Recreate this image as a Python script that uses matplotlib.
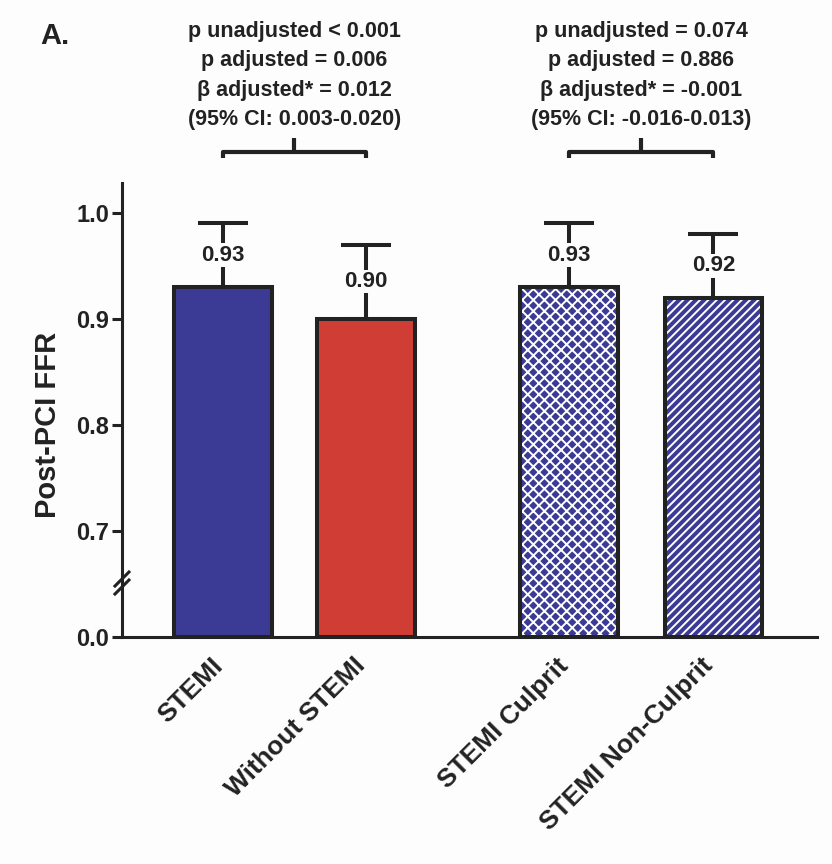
import numpy as np
import matplotlib.pyplot as plt
from matplotlib.transforms import offset_copy

groups = ['STEMI', 'Without STEMI', 'STEMI Culprit', 'STEMI Non-Culprit']
means = [0.93, 0.90, 0.93, 0.92]
errs = [0.06, 0.07, 0.06, 0.06]
value_labels = ['0.93', '0.90', '0.93', '0.92']
stats_left = ['p unadjusted < 0.001', 'p adjusted = 0.006',
              'β adjusted* = 0.012', '(95% CI: 0.003-0.020)']
stats_right = ['p unadjusted = 0.074', 'p adjusted = 0.886',
               'β adjusted* = -0.001', '(95% CI: -0.016-0.013)']

xpos = [0, 1, 2.42, 3.43]
blue = '#3b3b95'
red = '#cf3d35'
dark = '#222222'
bg = '#fdfdfd'

plt.rcParams['font.family'] = ['Liberation Sans', 'DejaVu Sans']
plt.rcParams['font.weight'] = 'bold'
plt.rcParams['hatch.linewidth'] = 1.4


# broken axis: 0..0.7 squeezed into one tick step
def fwd(v):
    v = np.asarray(v, dtype=float)
    return np.where(v < 0.7, 0.6 + v / 7.0, v)


def inv(t):
    t = np.asarray(t, dtype=float)
    return np.where(t < 0.7, (t - 0.6) * 7.0, t)


fig = plt.figure(figsize=(8.32, 8.64), dpi=100, facecolor=bg)
ax = fig.add_axes([0.1466, 0.2627, 0.8353, 0.5255])
ax.set_facecolor(bg)
ax.set_yscale('function', functions=(fwd, inv))
ax.set_ylim(0, 1.028)
ax.set_xlim(-0.706, 4.154)

faces = [blue, red, blue, blue]
hatches = [None, None, 'xxx', '////']
w = 0.68
for x, m, fc, h in zip(xpos, means, faces, hatches):
    if h:
        ax.bar(x, m, w, color=fc, edgecolor='white', hatch=h, linewidth=0, zorder=2)
        ax.bar(x, m, w, fill=False, edgecolor=dark, linewidth=2.9, zorder=3)
    else:
        ax.bar(x, m, w, color=fc, edgecolor=dark, linewidth=2.9, zorder=3)

ax.errorbar(xpos, means, yerr=[[0] * 4, errs], fmt='none', ecolor=dark,
            elinewidth=2.9, capsize=18, capthick=2.9, zorder=1)

for x, m, e, lab in zip(xpos, means, errs, value_labels):
    ax.text(x, m + e / 2, lab, ha='center', va='center', fontsize=16,
            fontweight='bold', color=dark, zorder=4,
            bbox=dict(facecolor=bg, edgecolor='none', pad=1.0))

ax.set_yticks([0.0, 0.7, 0.8, 0.9, 1.0])
ax.set_yticklabels(['0.0', '0.7', '0.8', '0.9', '1.0'])
ax.set_xticks(xpos)
ax.set_xticklabels([''] * len(groups))
ax.tick_params(axis='x', length=0)
ax.tick_params(axis='y', length=7, width=2.2, color=dark, labelsize=17,
               labelcolor=dark, pad=2)
for lab in ax.get_yticklabels():
    lab.set_fontweight('bold')

# rotated category labels
lab_tr = offset_copy(ax.get_xaxis_transform(), fig=fig, x=-6, y=-23, units='dots')
for x, g in zip(xpos, groups):
    ax.text(x, 0, g, transform=lab_tr, rotation=45, ha='right',
            va='center_baseline', rotation_mode='anchor', fontsize=19,
            fontweight='bold', color=dark, clip_on=False)

for s in ['top', 'right']:
    ax.spines[s].set_visible(False)
for s in ['left', 'bottom']:
    ax.spines[s].set_linewidth(2.2)
    ax.spines[s].set_color(dark)

ax.set_ylabel('Post-PCI FFR', fontsize=21, fontweight='bold', color=dark)
ax.yaxis.set_label_coords(-0.087, 0.467)

# axis break marks (two short slashes on the y axis)
yb_frac = (637 - 583) / (637 - 183)
for dy in (-4, 4):
    tr = offset_copy(ax.transAxes, fig=fig, x=0, y=dy, units='dots')
    ax.plot([-7 / 695, 7 / 695], [yb_frac - 7 / 454, yb_frac + 7 / 454],
            transform=tr, color=dark, lw=2.2, clip_on=False, zorder=5)

# brackets and stats
for (x0, x1), lines in [((xpos[0], xpos[1]), stats_left),
                        ((xpos[2], xpos[3]), stats_right)]:
    ax.plot([x0, x0, x1, x1], [1.052, 1.0575, 1.0575, 1.052], color=dark,
            lw=3, clip_on=False, solid_capstyle='butt')
    xm = (x0 + x1) / 2
    ax.plot([xm, xm], [1.0575, 1.0708], color=dark, lw=3, clip_on=False,
            solid_capstyle='butt')
    for i, t in enumerate(lines):
        ypix = 32 + 29.4 * i
        ax.text(xm, 0.6 + (637 - ypix) / 1060, t,
                ha='center', va='center', fontsize=15.5, fontweight='bold',
                color=dark, clip_on=False)

fig.text(0.048, 0.958, 'A.', fontsize=21, fontweight='bold', color=dark,
         ha='left', va='center')

fig.savefig('out.png', dpi=100, facecolor=fig.get_facecolor())
